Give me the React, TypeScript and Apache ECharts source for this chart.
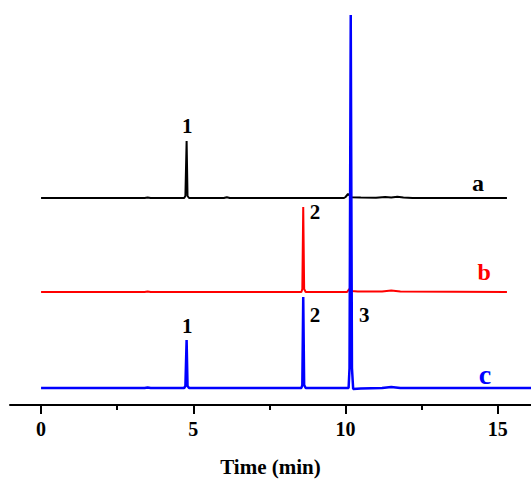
import React, { useEffect, useRef } from "react";
import * as echarts from "echarts";

// Chromatogram traces: [time (min), signal above own baseline]
const traceA: [number, number][] = [
  [0, 0], [2.5, 0], [3.4, 0], [3.5, 0.6], [3.6, 0], [4.7, 0], [4.74, 2], [4.78, 57], [4.81, 2], [4.86, 0],
  [6.0, 0], [6.1, 0.8], [6.2, 0], [9.95, 0], [10.0, 1], [10.08, 4], [10.2, 0.8], [10.5, 0.5], [11.0, 0.3],
  [11.3, 1], [11.5, 0.5], [11.7, 1.2], [11.9, 0.4], [12.2, 0], [15.3, 0],
];
const traceB: [number, number][] = [
  [0, 0], [3.4, 0], [3.5, 0.6], [3.6, 0], [8.55, 0], [8.58, 3], [8.61, 85], [8.64, 3], [8.69, 0],
  [10.05, 0], [10.12, 3], [10.2, 1], [10.4, 0.5], [11.2, 0.5], [11.5, 1.5], [11.8, 0.5], [15.3, 0],
];
const traceC: [number, number][] = [
  [0, 0], [3.4, 0], [3.5, 0.5], [3.6, 0], [4.7, 0], [4.74, 2], [4.78, 48], [4.81, 2], [4.86, 0],
  [8.55, 0], [8.58, 3], [8.61, 91], [8.64, 3], [8.69, 0], [10.1, 0], [10.13, 20], [10.17, 373],
  [10.21, 20], [10.25, -1], [10.5, -0.5], [11.2, 0], [11.5, 1], [11.8, 0], [15.3, 0], [16.09, 0],
];

const traceNames = ["a", "b", "c"];
const traceOffsets = [207, 113, 17];
const traceColors = ["#000000", "#ff0000", "#0000ff"];

// labels: [time, absolute signal, text]
const labelsA: [number, number, string][] = [[4.8, 279, "1"], [14.35, 222, "a"]];
const labelsB: [number, number, string][] = [[9.0, 193, "2"], [14.55, 133, "b"]];
const labelsC: [number, number, string][] = [[4.8, 79, "1"], [9.0, 90, "2"], [10.61, 90, "3"], [14.58, 31, "c"]];

const majorTicks = [0, 5, 10, 15];
const minorTicks = [2.5, 7.5, 12.5];

const FONT = "'Liberation Serif', 'Times New Roman', serif";

export default function App() {
  const ref = useRef<HTMLDivElement>(null);
  useEffect(() => {
    if (!ref.current) return;
    const chart = echarts.init(ref.current, undefined, { renderer: "svg" });
    const traces = [traceA, traceB, traceC];
    const labels = [labelsA, labelsB, labelsC];
    const widths = [2, 2, 2.5];
    const series = traces.map((tr, i) => ({
      type: "line",
      name: traceNames[i],
      data: tr.map(([t, v]) => [t, v + traceOffsets[i]]),
      symbol: "none",
      showSymbol: false,
      lineStyle: { color: traceColors[i], width: widths[i] },
      z: 2 + i,
      markPoint: {
        silent: true,
        symbol: "circle",
        symbolSize: 0,
        data: labels[i].map(([t, v, txt]) => ({
          coord: [t, v],
          label: {
            show: true,
            position: "inside",
            formatter: txt,
            color: /[abc]/.test(txt) ? traceColors[i] : "#000",
            fontFamily: FONT,
            fontWeight: "bold",
            fontSize: txt === "c" ? 28 : /[ab]/.test(txt) ? 24 : 21,
          },
        })),
      },
    }));
    chart.setOption({
      animation: false,
      grid: { left: 10, right: 0, top: 15, bottom: 75, outerBoundsMode: "none", containLabel: false },
      xAxis: [
        {
          type: "value",
          min: -1.02,
          max: 16.09,
          position: "bottom",
          axisLine: { show: true, lineStyle: { color: "#000", width: 2 } },
          axisTick: { show: true, customValues: majorTicks, length: 9, lineStyle: { color: "#000", width: 2 } },
          axisLabel: {
            show: true,
            customValues: majorTicks,
            margin: 14,
            color: "#000",
            fontFamily: FONT,
            fontWeight: "bold",
            fontSize: 20,
          },
          splitLine: { show: false },
          name: "Time (min)",
          nameLocation: "middle",
          nameGap: 51,
          nameTextStyle: { color: "#000", fontFamily: FONT, fontWeight: "bold", fontSize: 21 },
        },
        {
          type: "value",
          min: -1.02,
          max: 16.09,
          position: "bottom",
          offset: 0,
          axisLine: { show: false },
          axisTick: { show: true, customValues: minorTicks, length: 5, lineStyle: { color: "#000", width: 2 } },
          axisLabel: { show: false },
          splitLine: { show: false },
        },
      ],
      yAxis: { type: "value", min: 0, max: 390, show: false, splitLine: { show: false } },
      series,
    });
    return () => chart.dispose();
  }, []);
  return <div ref={ref} style={{ position: "fixed", left: 0, top: 0, width: 531, height: 480, background: "#fff" }} />;
}
